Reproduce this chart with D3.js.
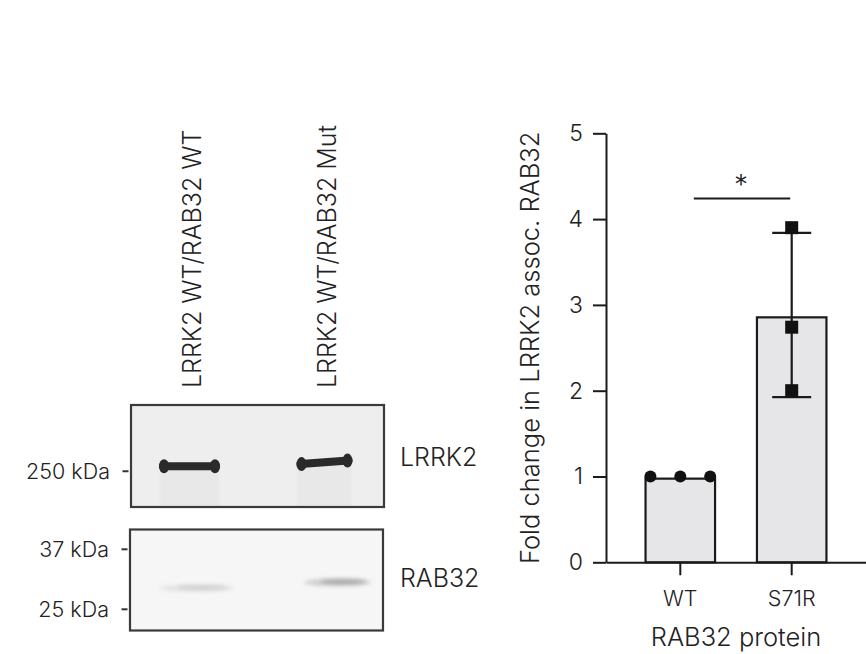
<!DOCTYPE html>
<html><head><meta charset="utf-8">
<script src="https://cdn.jsdelivr.net/npm/d3@7"></script>
<style>
body{margin:0;background:#fff}
svg{display:block}
text{font-family:Inter,"Liberation Sans",Arial,sans-serif;fill:#222;font-weight:300}
</style>
</head><body>
<svg id="c" width="866" height="654"></svg>
<script>
// ---------------- data ----------------
const lanes = ["LRRK2 WT/RAB32 WT", "LRRK2 WT/RAB32 Mut"];
const lrrk2BandKDa = [259, 263];
const lrrk2BandIntensity = [1.0, 1.0];
const rab32BandKDa = [28.7, 29.8];
const rab32BandIntensity = [0.22, 0.5];
const topMarkers = [250];
const bottomMarkers = [37, 25];
const markerLabels = {250: "250 kDa", 37: "37 kDa", 25: "25 kDa"};
const blotLabels = ["LRRK2", "RAB32"];

const groups = ["WT", "S71R"];
const barMeans = [0.975, 2.855];
const errLow = [null, 1.925];
const errHigh = [null, 3.84];
const wtPoints = [1.0, 1.0, 1.0];
const s71rPoints = [3.9, 2.74, 2.0];
const yTicks = [0, 1, 2, 3, 4, 5];
const sigY = 4.24;
const sigLabel = "*";
const yTitle = "Fold change in LRRK2 assoc. RAB32";
const xTitle = "RAB32 protein";

// ---------------- setup ----------------
const FONT = "Inter,'Liberation Sans',Arial,sans-serif";
const svg = d3.select("#c");
const defs = svg.append("defs");
defs.append("filter").attr("id", "b06").attr("x", "-20%").attr("y", "-50%").attr("width", "140%").attr("height", "200%")
  .append("feGaussianBlur").attr("stdDeviation", 0.7);
defs.append("filter").attr("id", "b2").attr("x", "-30%").attr("y", "-200%").attr("width", "160%").attr("height", "500%")
  .append("feGaussianBlur").attr("stdDeviation", 2.2);
defs.append("filter").attr("id", "b1").attr("x", "-30%").attr("y", "-30%").attr("width", "160%").attr("height", "160%")
  .append("feGaussianBlur").attr("stdDeviation", 1.2);

// ---------------- western blot ----------------
const laneX = d3.scalePoint().domain(lanes).range([131, 384]).padding(0.444);
const topBox = {x: 131, y: 405, w: 253, h: 102};
const botBox = {x: 130, y: 529.5, w: 253, h: 101};
const yTop = d3.scaleLog().domain([400, 194]).range([topBox.y, topBox.y + topBox.h]);
const yBot = d3.scaleLog().domain([37, 25]).range([549.3, 609.3]);

// top blot
const gT = svg.append("g");
gT.append("rect").attr("x", topBox.x).attr("y", topBox.y).attr("width", topBox.w).attr("height", topBox.h)
  .attr("fill", "#eeeeee");
const bandW = [59, 54];
const bandDx = [-1, 0];
const bandTilt = [0, -3.5];
lanes.forEach((l, i) => {
  const cx = laneX(l) + bandDx[i];
  const by = yTop(lrrk2BandKDa[i]);
  const x0 = cx - bandW[i] / 2, x1 = cx + bandW[i] / 2;
  const g = gT.append("g");
  // lane smear below band
  g.append("rect").attr("x", x0).attr("y", by).attr("width", bandW[i]).attr("height", topBox.y + topBox.h - by)
    .attr("fill", "#e8e8e8").attr("filter", "url(#b1)");
  [x0 + 2, x1 - 2].forEach(xx => {
    g.append("line").attr("x1", xx).attr("x2", xx).attr("y1", by).attr("y2", topBox.y + topBox.h)
      .attr("stroke", "#c4c4c4").attr("stroke-width", 2).attr("filter", "url(#b1)");
  });
  [0.35, 0.6, 0.82].forEach(f => {
    const yy = by + f * (topBox.y + topBox.h - by);
    g.append("line").attr("x1", x0).attr("x2", x1).attr("y1", yy).attr("y2", yy)
      .attr("stroke", "#dadada").attr("stroke-width", 1.5).attr("filter", "url(#b1)");
  });
  // band
  const bg = g.append("g").attr("filter", "url(#b06)").attr("opacity", lrrk2BandIntensity[i]);
  bg.append("line").attr("x1", x0 + 3).attr("x2", x1 - 3).attr("y1", by).attr("y2", by + bandTilt[i])
    .attr("stroke", "#2a2a2a").attr("stroke-width", 8).attr("stroke-linecap", "round");
  bg.append("ellipse").attr("cx", x0 + 4).attr("cy", by).attr("rx", 5).attr("ry", 7).attr("fill", "#2a2a2a");
  bg.append("ellipse").attr("cx", x1 - 4).attr("cy", by + bandTilt[i]).attr("rx", 5).attr("ry", 7).attr("fill", "#2a2a2a");
});
gT.append("rect").attr("x", topBox.x).attr("y", topBox.y).attr("width", topBox.w).attr("height", topBox.h)
  .attr("fill", "none").attr("stroke", "#3a3a3a").attr("stroke-width", 2.2);

// bottom blot
const gB = svg.append("g");
gB.append("rect").attr("x", botBox.x).attr("y", botBox.y).attr("width", botBox.w).attr("height", botBox.h)
  .attr("fill", "#f6f6f6");
const rabW = [75, 67];
const rabDx = [6, 13];
lanes.forEach((l, i) => {
  const cx = laneX(l) + rabDx[i];
  const by = yBot(rab32BandKDa[i]);
  const a = rab32BandIntensity[i];
  gB.append("ellipse").attr("cx", cx).attr("cy", by).attr("rx", rabW[i] / 2).attr("ry", 3.5)
    .attr("fill", "#555").attr("opacity", a * 0.55).attr("filter", "url(#b2)");
  gB.append("ellipse").attr("cx", cx + 6).attr("cy", by - 1).attr("rx", rabW[i] / 3).attr("ry", 2.2)
    .attr("fill", "#444").attr("opacity", a * 0.6).attr("filter", "url(#b2)");
});
gB.append("rect").attr("x", botBox.x).attr("y", botBox.y).attr("width", botBox.w).attr("height", botBox.h)
  .attr("fill", "none").attr("stroke", "#3a3a3a").attr("stroke-width", 2.2);

// markers
const markerG = svg.append("g");
function drawMarker(kda, yy, xBox) {
  markerG.append("line").attr("x1", xBox - 8.5).attr("x2", xBox - 2.5).attr("y1", yy).attr("y2", yy)
    .attr("stroke", "#333").attr("stroke-width", 2);
  markerG.append("text").attr("x", xBox - 21).attr("y", yy).attr("dy", "0.36em").attr("text-anchor", "end")
    .style("font-size", "21.5px").text(markerLabels[kda]);
}
topMarkers.forEach(k => drawMarker(k, yTop(k), topBox.x));
bottomMarkers.forEach(k => drawMarker(k, yBot(k), botBox.x));

// blot labels
svg.append("text").attr("x", 400).attr("y", 466).style("font-size", "25px").text(blotLabels[0]);
svg.append("text").attr("x", 400).attr("y", 587).style("font-size", "25px").text(blotLabels[1]);

// lane labels
lanes.forEach(l => {
  svg.append("text").attr("transform", `translate(${laneX(l) + 11},388) rotate(-90)`)
    .attr("text-anchor", "start").style("font-size", "25px").text(l);
});

// ---------------- bar chart ----------------
const y = d3.scaleLinear().domain([0, 5]).range([562.3, 133.3]);
const x = d3.scaleBand().domain(groups).range([606, 866]).paddingInner(0.376).paddingOuter(0.355);
const bw = x.bandwidth();
const gC = svg.append("g");

// bars
gC.selectAll("rect.bar").data(groups).join("rect").attr("class", "bar")
  .attr("x", d => x(d)).attr("width", bw)
  .attr("y", (d, i) => y(barMeans[i])).attr("height", (d, i) => y(0) - y(barMeans[i]))
  .attr("fill", "#e6e6e8").attr("stroke", "#1a1a1a").attr("stroke-width", 2.2);

// axes
const yAxis = gC.append("g").attr("transform", "translate(606,0)")
  .call(d3.axisLeft(y).tickValues(yTicks).tickSize(13).tickSizeOuter(0).tickPadding(10).tickFormat(d3.format("d")));
const xAxis = gC.append("g").attr("transform", `translate(0,${y(0)})`)
  .call(d3.axisBottom(x).tickSize(13).tickSizeOuter(0).tickPadding(15));
[yAxis, xAxis].forEach(a => {
  a.selectAll("path,line").attr("stroke", "#1a1a1a").attr("stroke-width", 2);
  a.selectAll("text").attr("fill", "#222").style("font-family", FONT).style("font-weight", 300);
});
yAxis.selectAll("text").style("font-size", "23px");
xAxis.selectAll("text").style("font-size", "21.5px");

// error bars
groups.forEach((g, i) => {
  if (errLow[i] == null) return;
  const cx = x(g) + bw / 2;
  gC.append("line").attr("x1", cx).attr("x2", cx).attr("y1", y(errLow[i])).attr("y2", y(errHigh[i]))
    .attr("stroke", "#1a1a1a").attr("stroke-width", 2.2);
  [errLow[i], errHigh[i]].forEach(v => {
    gC.append("line").attr("x1", cx - 19.5).attr("x2", cx + 19.5).attr("y1", y(v)).attr("y2", y(v))
      .attr("stroke", "#1a1a1a").attr("stroke-width", 2.2);
  });
});

// points (identical values spread horizontally)
const spread = bw * 0.43;
wtPoints.forEach((v, i) => {
  const cx = x("WT") + bw / 2 + (i - (wtPoints.length - 1) / 2) * spread;
  gC.append("circle").attr("cx", cx).attr("cy", y(v)).attr("r", 6).attr("fill", "#111");
});
s71rPoints.forEach(v => {
  const cx = x("S71R") + bw / 2;
  gC.append("rect").attr("x", cx - 6.5).attr("y", y(v) - 6.5).attr("width", 13).attr("height", 13).attr("fill", "#111");
});

// significance
const sx0 = x("WT") + bw / 2 + 13.5, sx1 = x("S71R") + bw / 2 - 1.5;
gC.append("line").attr("x1", sx0).attr("x2", sx1).attr("y1", y(sigY)).attr("y2", y(sigY))
  .attr("stroke", "#1a1a1a").attr("stroke-width", 2);
gC.append("text").attr("x", (sx0 + sx1) / 2 - 1).attr("y", y(sigY) - 4).attr("text-anchor", "middle")
  .style("font-size", "28px").text(sigLabel);

// titles
gC.append("text").attr("transform", `translate(539,${(y(0) + y(5)) / 2}) rotate(-90)`)
  .attr("text-anchor", "middle").style("font-size", "25.5px").text(yTitle);
gC.append("text").attr("x", x("WT") + (x("S71R") + bw - x("WT")) / 2).attr("y", 646)
  .attr("text-anchor", "middle").style("font-size", "25.5px").text(xTitle);
</script>
</body></html>
